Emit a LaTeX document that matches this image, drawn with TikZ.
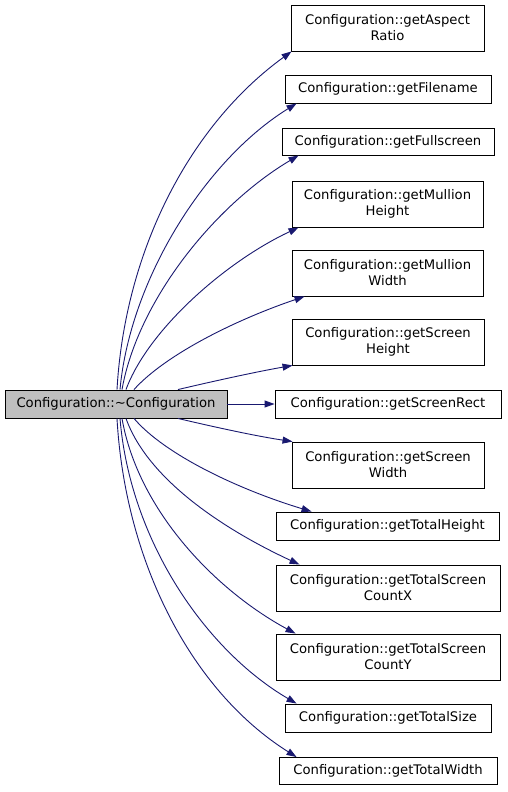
\documentclass[tikz,border=0pt]{standalone}
\usepackage{fontspec}
\setmainfont{DejaVu Sans}
\usetikzlibrary{arrows.meta}
\definecolor{edgeblue}{HTML}{191970}
\definecolor{mainfill}{HTML}{BFBFBF}
\begin{document}
\begin{tikzpicture}[x=1pt,y=-1pt,
  fn/.style={draw=black, line width=0.9pt, fill=white, inner sep=0pt, align=center,
    font=\fontsize{13.2}{16}\selectfont, minimum height=#1},
  fn/.default=28pt,
  call/.style={draw=edgeblue, line width=0.9pt, -{Triangle[length=10pt,width=7pt]}}]
\useasboundingbox (0,0) rectangle (507,792);
\fill[white] (0,0) rectangle (507,792);
% nodes
\node[fn, fill=mainfill, minimum width=222pt] (main) at (116,404) {Configuration::\textasciitilde Configuration};
\node[fn=46pt, minimum width=193pt] (aspect) at (387.5,28) {Configuration::getAspect\\Ratio};
\node[fn, minimum width=206pt] (filename) at (388,89) {Configuration::getFilename};
\node[fn=27pt, minimum width=212pt] (full) at (388,141.5) {Configuration::getFullscreen};
\node[fn=46pt, minimum width=191pt] (mullh) at (387.5,204) {Configuration::getMullion\\Height};
\node[fn=46pt, minimum width=191pt] (mullw) at (387.5,273) {Configuration::getMullion\\Width};
\node[fn=46pt, minimum width=192pt] (scrh) at (388,342) {Configuration::getScreen\\Height};
\node[fn, minimum width=226pt] (rect) at (388,404) {Configuration::getScreenRect};
\node[fn=46pt, minimum width=192pt] (scrw) at (388,465) {Configuration::getScreen\\Width};
\node[fn, minimum width=223pt] (toth) at (387.5,526) {Configuration::getTotalHeight};
\node[fn=46pt, minimum width=224pt] (cntx) at (388,588) {Configuration::getTotalScreen\\CountX};
\node[fn=46pt, minimum width=224pt] (cnty) at (388,657) {Configuration::getTotalScreen\\CountY};
\node[fn, minimum width=206pt] (tsize) at (388,718) {Configuration::getTotalSize};
\node[fn=27pt, minimum width=218pt] (totw) at (388,771) {Configuration::getTotalWidth};
% edges upward
\draw[call] ([xshift=1pt]main.north) .. controls (125,250) and (190,125) .. ([xshift=1pt]aspect.south west);
\draw[call] ([xshift=4pt]main.north) .. controls (130,280) and (205,160) .. ([xshift=12pt]filename.south west);
\draw[call] ([xshift=6pt]main.north) .. controls (138,300) and (215,205) .. ([xshift=17pt]full.south west);
\draw[call] ([xshift=10pt]main.north) .. controls (148,330) and (225,262) .. ([xshift=7pt]mullh.south west);
\draw[call] ([xshift=18pt]main.north) .. controls (165,355) and (235,320) .. ([xshift=13pt]mullw.south west);
\draw[call] ([xshift=62pt]main.north) .. controls (210,382) and (255,372) .. ([xshift=1pt]scrh.south west);
% straight
\draw[call] (main.east) -- (rect.west);
% edges downward
\draw[call] ([xshift=62pt]main.south) .. controls (210,426) and (255,436) .. ([xshift=1pt]scrw.north west);
\draw[call] ([xshift=18pt]main.south) .. controls (165,455) and (240,490) .. ([xshift=36pt]toth.north west);
\draw[call] ([xshift=10pt]main.south) .. controls (148,480) and (225,530) .. ([xshift=24pt]cntx.north west);
\draw[call] ([xshift=6pt]main.south) .. controls (138,510) and (215,590) .. ([xshift=20pt]cnty.north west);
\draw[call] ([xshift=4pt]main.south) .. controls (130,540) and (205,650) .. ([xshift=12pt]tsize.north west);
\draw[call] ([xshift=1pt]main.south) .. controls (125,560) and (190,690) .. ([xshift=18pt]totw.north west);
\end{tikzpicture}
\end{document}
